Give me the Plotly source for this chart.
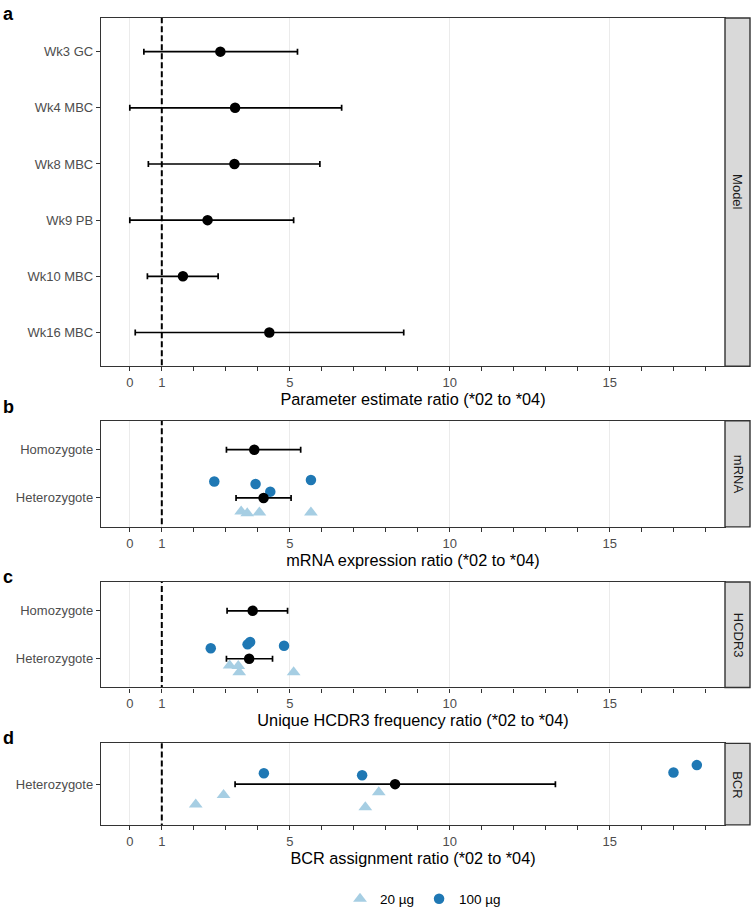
import plotly.graph_objects as go

# ---------------- data ----------------
model_cats = ["Wk3 GC", "Wk4 MBC", "Wk8 MBC", "Wk9 PB", "Wk10 MBC", "Wk16 MBC"]
model_est = [2.83, 3.29, 3.27, 2.43, 1.66, 4.36]
model_lo = [0.44, 0.00, 0.58, 0.00, 0.55, 0.17]
model_hi = [5.24, 6.62, 5.94, 5.12, 2.76, 8.56]

geno_cats = ["Heterozygote", "Homozygote"]

mrna_est = [4.18, 3.89]
mrna_lo = [3.32, 3.02]
mrna_hi = [5.04, 5.34]
mrna_100_x = [2.64, 3.93, 4.39, 5.66]
mrna_100_y = [1.34, 1.29, 1.13, 1.37]
mrna_20_x = [3.48, 3.67, 4.05, 5.66]
mrna_20_y = [0.72, 0.68, 0.70, 0.70]

hcdr_est = [3.73, 3.84]
hcdr_lo = [3.02, 3.04]
hcdr_hi = [4.46, 4.93]
hcdr_100_x = [2.53, 3.68, 3.76, 4.82]
hcdr_100_y = [1.22, 1.30, 1.35, 1.27]
hcdr_20_x = [3.12, 3.39, 3.42, 5.12]
hcdr_20_y = [0.86, 0.85, 0.72, 0.72]

bcr_cats = ["Heterozygote"]
bcr_est = [8.29]
bcr_lo = [3.29]
bcr_hi = [13.30]
bcr_100_x = [4.19, 7.26, 16.99, 17.72]
bcr_100_y = [1.16, 1.13, 1.17, 1.28]
bcr_20_x = [2.06, 2.93, 7.78, 7.36]
bcr_20_y = [0.70, 0.84, 0.88, 0.66]

x_ticks = [0, 1, 5, 10, 15]
strip_labels = ["Model", "mRNA", "HCDR3", "BCR"]
panel_letters = ["a", "b", "c", "d"]
x_titles = ["Parameter estimate ratio (*02 to *04)",
            "mRNA expression ratio (*02 to *04)",
            "Unique HCDR3 frequency ratio (*02 to *04)",
            "BCR assignment ratio (*02 to *04)"]

# ---------------- layout geometry ----------------
W, H = 751, 915
FONT = "Liberation Sans, Arial, sans-serif"
x_dom = [101 / W, 725 / W]
panels_px = [(18, 367), (421.7, 528), (583.3, 689), (745, 826.7)]
letter_center_px = [14, 408, 578, 740]
y_doms = [[1 - b / H, 1 - t / H] for t, b in panels_px]
XR = [-0.9, 18.6]
C100 = "#1f78b4"
C20 = "#a6cee3"

fig = go.Figure()

def add_panel(i, cats_y, est, lo, hi, p100=None, p20=None):
    xa = "x" if i == 0 else f"x{i+1}"
    ya = "y" if i == 0 else f"y{i+1}"
    # dashed reference line at ratio 1 (drawn as a trace so it sits above the grid)
    fig.add_trace(go.Scatter(
        x=[1, 1], y=[-10, 10], mode="lines", xaxis=xa, yaxis=ya,
        line=dict(color="black", width=2, dash="6px,3px"),
        showlegend=False, hoverinfo="skip"))
    if p20 is not None:
        fig.add_trace(go.Scatter(
            x=p20[0], y=p20[1], mode="markers", xaxis=xa, yaxis=ya,
            marker=dict(symbol="triangle-up", size=12, color=C20),
            name="20 µg", legendgroup="20", showlegend=(i == 1)))
    if p100 is not None:
        fig.add_trace(go.Scatter(
            x=p100[0], y=p100[1], mode="markers", xaxis=xa, yaxis=ya,
            marker=dict(symbol="circle", size=10.5, color=C100),
            name="100 µg", legendgroup="100", showlegend=(i == 1)))
    fig.add_trace(go.Scatter(
        x=est, y=cats_y, mode="markers", xaxis=xa, yaxis=ya,
        marker=dict(symbol="circle", size=10.5, color="black"),
        error_x=dict(type="data", symmetric=False,
                     array=[h - e for h, e in zip(hi, est)],
                     arrayminus=[e - l for e, l in zip(est, lo)],
                     color="black", thickness=1.7, width=3),
        showlegend=False, hoverinfo="x+y"))

n = len(model_cats)
model_y = [n - k for k in range(n)]
add_panel(0, model_y, model_est, model_lo, model_hi)
add_panel(1, [1, 2], mrna_est, mrna_lo, mrna_hi,
          (mrna_100_x, mrna_100_y), (mrna_20_x, mrna_20_y))
add_panel(2, [1, 2], hcdr_est, hcdr_lo, hcdr_hi,
          (hcdr_100_x, hcdr_100_y), (hcdr_20_x, hcdr_20_y))
add_panel(3, [1], bcr_est, bcr_lo, bcr_hi,
          (bcr_100_x, bcr_100_y), (bcr_20_x, bcr_20_y))

y_specs = [
    (model_y, model_cats, [0.4, n + 0.6]),
    ([1, 2], geno_cats, [0.4, 2.6]),
    ([1, 2], geno_cats, [0.4, 2.6]),
    ([1], bcr_cats, [0.4, 1.6]),
]

for i in range(4):
    xk = "xaxis" if i == 0 else f"xaxis{i+1}"
    yk = "yaxis" if i == 0 else f"yaxis{i+1}"
    ya = "y" if i == 0 else f"y{i+1}"
    xa = "x" if i == 0 else f"x{i+1}"
    tv, tt, yr = y_specs[i]
    fig.layout[xk] = dict(
        domain=x_dom, anchor=ya, range=XR, tickvals=x_ticks,
        ticktext=[str(v) for v in x_ticks],
        showgrid=True, gridcolor="#ebebeb", gridwidth=1.3, zeroline=False,
        showline=True, mirror=True, linecolor="#333333", linewidth=1.4,
        ticks="outside", ticklen=4, tickcolor="#333333", tickwidth=1.2,
        minor=dict(tickmode="linear", tick0=0, dtick=1, ticks="outside",
                   ticklen=4, tickcolor="#333333", tickwidth=1.2, showgrid=False),
        tickfont=dict(family=FONT, size=13, color="#4d4d4d"),
        title=dict(text=x_titles[i], font=dict(family=FONT, size=16.3, color="black"),
                   standoff=3),
    )
    fig.layout[yk] = dict(
        domain=y_doms[i], anchor=xa, range=yr, tickvals=tv, ticktext=tt,
        showgrid=False, zeroline=False,
        showline=True, mirror=True, linecolor="#333333", linewidth=1.4,
        ticks="outside", ticklen=4, tickcolor="#333333", tickwidth=1.2,
        tickfont=dict(family=FONT, size=13, color="#4d4d4d"),
    )
    fig.add_shape(type="rect", xref="paper", yref="paper",
                  x0=725 / W, x1=750 / W, y0=y_doms[i][0], y1=y_doms[i][1],
                  fillcolor="#d9d9d9", line=dict(color="#333333", width=1.4))
    fig.add_annotation(xref="paper", yref="paper", x=738 / W,
                       y=(y_doms[i][0] + y_doms[i][1]) / 2, text=strip_labels[i],
                       textangle=90, showarrow=False, xanchor="center", yanchor="middle",
                       font=dict(family=FONT, size=13, color="#1a1a1a"))
    fig.add_annotation(xref="paper", yref="paper", x=0.5 / W,
                       y=1 - letter_center_px[i] / H,
                       xanchor="left", yanchor="middle", text=f"<b>{panel_letters[i]}</b>",
                       showarrow=False, font=dict(family=FONT, size=18, color="black"))

fig.update_layout(
    width=W, height=H, margin=dict(l=0, r=0, t=0, b=0),
    paper_bgcolor="white", plot_bgcolor="white",
    font=dict(family=FONT),
    legend=dict(orientation="h", x=423 / W, xanchor="center", y=1 - 901 / H, yanchor="middle",
                font=dict(family=FONT, size=13.5, color="black"),
                itemwidth=30, tracegroupgap=0, traceorder="normal"),
)

fig.write_html("out.html", config={"displayModeBar": False},
               post_script="document.body.style.margin='0px';document.body.style.overflow='hidden';")
